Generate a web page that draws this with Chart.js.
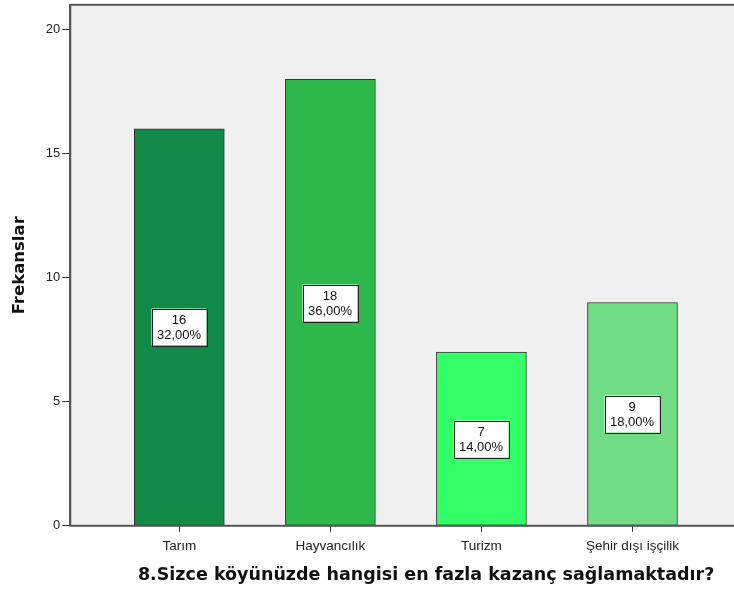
<!DOCTYPE html>
<html>
<head>
<meta charset="utf-8">
<script src="https://cdn.jsdelivr.net/npm/chart.js@4.4.1/dist/chart.umd.min.js"></script>
<style>
    html, body { margin: 0; padding: 0; background: #fff; overflow: hidden; }
    #wrap { width: 790px; height: 597px; margin-top: -5px; }
</style>
</head>
<body>
<div id="wrap"><canvas id="chart"></canvas></div>
<script>
// Values
const categories = ['Tarım', 'Hayvancılık', 'Turizm', 'Şehir dışı işçilik'];
const frequencies = [16, 18, 7, 9];
const barColors = ['#118a47', '#2eb84b', '#33ff66', '#70dc85'];
const yTicks = [0, 5, 10, 15, 20];
const xTitle = '8.Sizce köyünüzde hangisi en fazla kazanç sağlamaktadır?';
const yTitle = 'Frekanslar';

const total = frequencies.reduce((a, b) => a + b, 0);
const FONT = '"Liberation Sans", Arial, sans-serif';
const TITLE_FONT = '"DejaVu Sans", Verdana, sans-serif';

// Plot background + frame
const framePlugin = {
    id: 'frame',
    beforeDraw(chart) {
        const { ctx, chartArea: a } = chart;
        ctx.save();
        ctx.fillStyle = '#f0f0f0';
        ctx.fillRect(a.left, a.top, a.right - a.left, a.bottom - a.top);
        ctx.restore();
    },
    afterDraw(chart) {
        const { ctx, chartArea: a } = chart;
        ctx.save();
        ctx.strokeStyle = '#555';
        ctx.lineWidth = 2;
        ctx.strokeRect(a.left, a.top, a.right - a.left, a.bottom - a.top);
        ctx.restore();
    }
};

// Axis titles drawn by hand (space is reserved by the invisible scale titles)
const titlePlugin = {
    id: 'axisTitles',
    afterDraw(chart) {
        const { ctx, chartArea: a } = chart;
        const xs = chart.scales.x, ys = chart.scales.y;
        ctx.save();
        ctx.fillStyle = '#111';
        ctx.textAlign = 'center';
        ctx.textBaseline = 'middle';

        ctx.font = 'bold 17.5px ' + TITLE_FONT;
        ctx.fillText(xTitle, (a.left + a.right) / 2, xs.bottom - 11);

        ctx.font = 'bold 16.5px ' + TITLE_FONT;
        ctx.translate(ys.left + 10, (a.top + a.bottom) / 2);
        ctx.rotate(-Math.PI / 2);
        ctx.fillText(yTitle, 0, 0);
        ctx.restore();
    }
};

// Count + percent boxes in the middle of each bar
const boxPlugin = {
    id: 'boxes',
    afterDatasetsDraw(chart) {
        const { ctx } = chart;
        const yScale = chart.scales.y;
        const meta = chart.getDatasetMeta(0);
        ctx.save();
        ctx.font = '13px ' + FONT;
        ctx.textAlign = 'center';
        ctx.textBaseline = 'middle';
        meta.data.forEach((bar, i) => {
            const v = frequencies[i];
            const pct = (v / total * 100).toFixed(2).replace('.', ',') + '%';
            const cx = Math.round(bar.x);
            const cy = Math.round(yScale.getPixelForValue(v / 2));
            const w = 55, h = 37;
            ctx.fillStyle = '#fff';
            ctx.fillRect(cx - w / 2, cy - h / 2, w, h);
            ctx.strokeStyle = '#222';
            ctx.lineWidth = 1;
            ctx.strokeRect(Math.round(cx - w / 2) + 0.5, Math.round(cy - h / 2) + 0.5, w, h);
            ctx.fillStyle = '#111';
            ctx.fillText(String(v), cx, cy - 7);
            ctx.fillText(pct, cx, cy + 8);
        });
        ctx.restore();
    }
};

new Chart(document.getElementById('chart'), {
    type: 'bar',
    data: {
        datasets: [{
            data: frequencies.map((v, i) => ({ x: i, y: v })),
            backgroundColor: barColors,
            borderColor: '#333',
            borderWidth: 1,
            borderSkipped: false,
            barThickness: 90
        }]
    },
    options: {
        responsive: true,
        maintainAspectRatio: false,
        animation: false,
        layout: { autoPadding: false, padding: { left: 10, top: 0, right: 8, bottom: 6 } },
        plugins: {
            legend: { display: false },
            tooltip: { enabled: false }
        },
        scales: {
            x: {
                type: 'linear',
                offset: false,
                min: -0.722,
                max: 3.99,
                afterBuildTicks: s => { s.ticks = categories.map((c, i) => ({ value: i })); },
                ticks: {
                    callback: v => categories[v],
                    color: '#222',
                    font: { family: FONT, size: 13.5 },
                    padding: 6,
                    maxRotation: 0,
                    autoSkip: false
                },
                grid: { offset: false, drawOnChartArea: false, drawTicks: true, tickLength: 6, color: '#333' },
                border: { display: true, color: '#333', width: 1 },
                title: {
                    display: true,
                    text: xTitle,
                    color: 'rgba(0,0,0,0)',
                    font: { family: TITLE_FONT, size: 17.5, weight: 'bold' },
                    padding: { top: 5, bottom: 0 }
                }
            },
            y: {
                min: 0,
                max: 21,
                afterBuildTicks: s => { s.ticks = yTicks.map(v => ({ value: v })); },
                ticks: {
                    color: '#222',
                    font: { family: FONT, size: 13 },
                    padding: 2
                },
                grid: { drawOnChartArea: false, drawTicks: true, tickLength: 8, color: '#333' },
                border: { display: true, color: '#555', width: 2 },
                title: {
                    display: true,
                    text: yTitle,
                    color: 'rgba(0,0,0,0)',
                    font: { family: TITLE_FONT, size: 16.5, weight: 'bold' },
                    padding: { top: 0, bottom: 14 }
                }
            }
        }
    },
    plugins: [framePlugin, boxPlugin, titlePlugin]
});
</script>
</body>
</html>
